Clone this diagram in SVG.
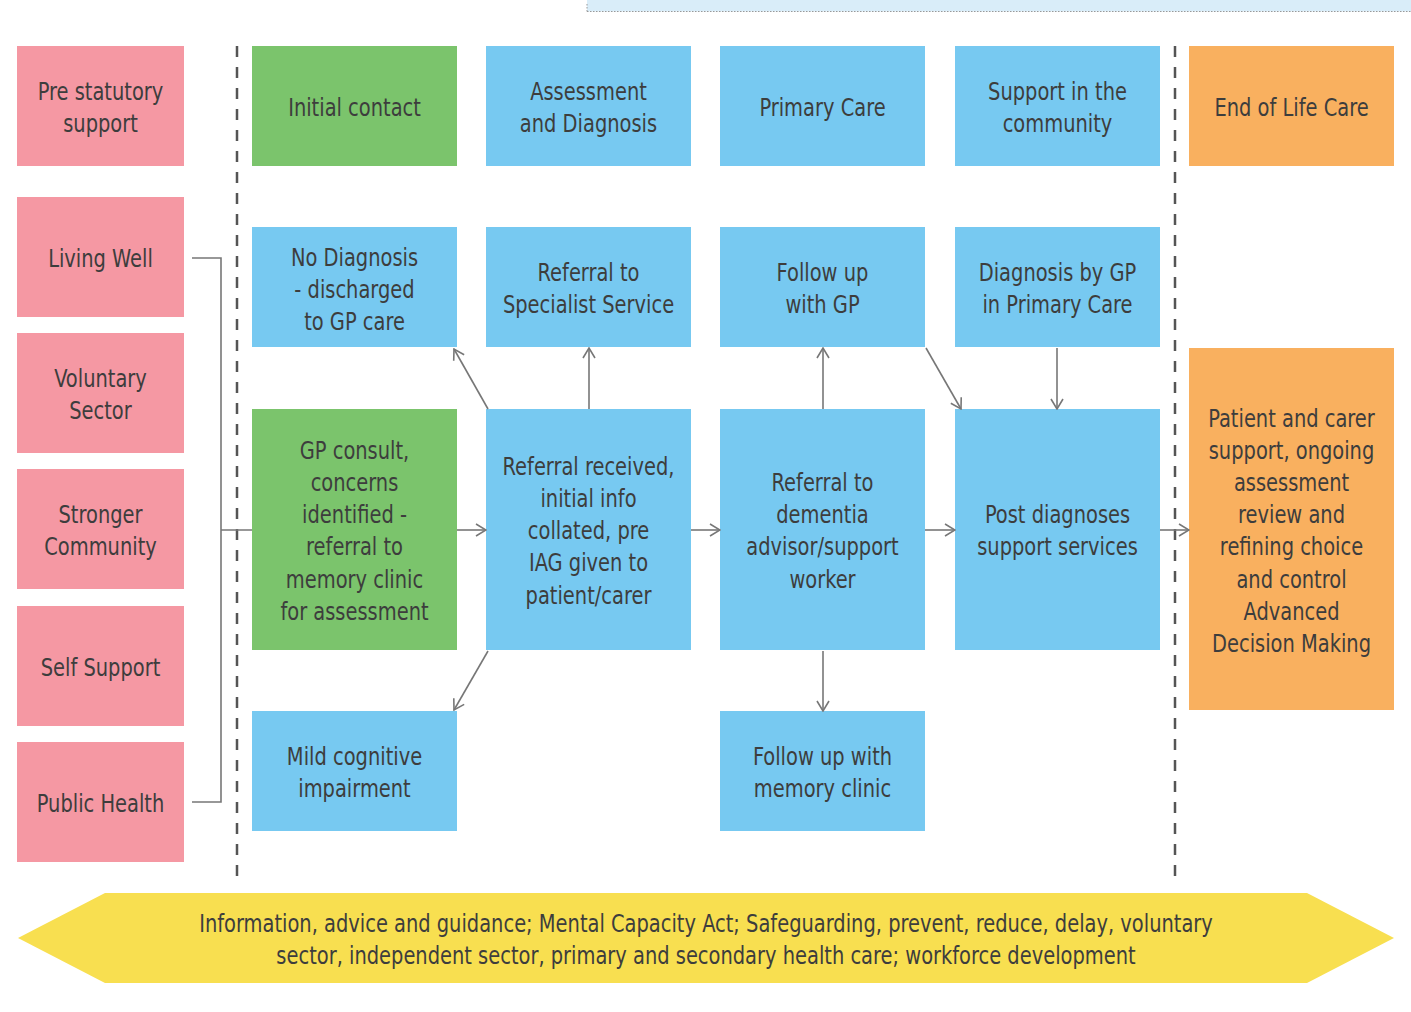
<svg xmlns="http://www.w3.org/2000/svg" width="1411" height="1012" viewBox="0 0 1411 1012">
<style>
.t{font-family:"DejaVu Sans Condensed","Liberation Sans Narrow",sans-serif;font-size:25px;fill:#3d3d3d;text-anchor:middle}
.pink{fill:#f598a3}
.green{fill:#7bc46c}
.blue{fill:#77c9f1}
.orange{fill:#f9b05f}
.c{stroke:#777;stroke-width:1.6;fill:none}
.dash{stroke:#555;stroke-width:2.5;stroke-dasharray:11 10;fill:none}
</style>
<defs>
<marker id="ah" viewBox="0 0 12 14" refX="11" refY="7" markerWidth="12" markerHeight="14" markerUnits="userSpaceOnUse" orient="auto">
<path d="M1,1 L11,7 L1,13" fill="none" stroke="#777" stroke-width="1.6"/>
</marker>
</defs>
<rect width="1411" height="1012" fill="#fff"/>
<g id="topstrip">
<rect x="587" y="-2" width="826" height="13.5" fill="#d9edf9"/>
<path d="M587,11.5 H1411 M587,4 V11.5" stroke="#999" stroke-width="1" stroke-dasharray="1.5 1.5" fill="none"/>
</g>
<g id="dividers">
<line class="dash" x1="237" y1="46" x2="237" y2="878"/>
<line class="dash" x1="1175" y1="46" x2="1175" y2="878"/>
</g>
<g id="n-pre"><rect class="pink" x="17" y="46" width="167" height="120"/><g transform="translate(100.5,0) scale(0.865,1)"><text class="t" x="0" y="100">Pre statutory</text><text class="t" x="0" y="132">support</text></g></g>
<g id="n-living"><rect class="pink" x="17" y="197" width="167" height="120"/><g transform="translate(100.5,0) scale(0.865,1)"><text class="t" x="0" y="267">Living Well</text></g></g>
<g id="n-voluntary"><rect class="pink" x="17" y="333" width="167" height="120"/><g transform="translate(100.5,0) scale(0.865,1)"><text class="t" x="0" y="387">Voluntary</text><text class="t" x="0" y="419">Sector</text></g></g>
<g id="n-stronger"><rect class="pink" x="17" y="469" width="167" height="120"/><g transform="translate(100.5,0) scale(0.865,1)"><text class="t" x="0" y="523">Stronger</text><text class="t" x="0" y="555">Community</text></g></g>
<g id="n-self"><rect class="pink" x="17" y="606" width="167" height="120"/><g transform="translate(100.5,0) scale(0.865,1)"><text class="t" x="0" y="676">Self Support</text></g></g>
<g id="n-public"><rect class="pink" x="17" y="742" width="167" height="120"/><g transform="translate(100.5,0) scale(0.865,1)"><text class="t" x="0" y="812">Public Health</text></g></g>

<g id="n-initial"><rect class="green" x="252" y="46" width="205" height="120"/><g transform="translate(354.5,0) scale(0.865,1)"><text class="t" x="0" y="116">Initial contact</text></g></g>
<g id="n-assess"><rect class="blue" x="486" y="46" width="205" height="120"/><g transform="translate(588.5,0) scale(0.865,1)"><text class="t" x="0" y="100">Assessment</text><text class="t" x="0" y="132">and Diagnosis</text></g></g>
<g id="n-primary"><rect class="blue" x="720" y="46" width="205" height="120"/><g transform="translate(822.5,0) scale(0.865,1)"><text class="t" x="0" y="116">Primary Care</text></g></g>
<g id="n-support"><rect class="blue" x="955" y="46" width="205" height="120"/><g transform="translate(1057.5,0) scale(0.865,1)"><text class="t" x="0" y="100">Support in the</text><text class="t" x="0" y="132">community</text></g></g>
<g id="n-eol"><rect class="orange" x="1189" y="46" width="205" height="120"/><g transform="translate(1291.5,0) scale(0.865,1)"><text class="t" x="0" y="116">End of Life Care</text></g></g>

<g id="n-nodiag"><rect class="blue" x="252" y="227" width="205" height="120"/><g transform="translate(354.5,0) scale(0.865,1)"><text class="t" x="0" y="266">No Diagnosis</text><text class="t" x="0" y="298">- discharged</text><text class="t" x="0" y="330">to GP care</text></g></g>
<g id="n-refspec"><rect class="blue" x="486" y="227" width="205" height="120"/><g transform="translate(588.5,0) scale(0.865,1)"><text class="t" x="0" y="281">Referral to</text><text class="t" x="0" y="313">Specialist Service</text></g></g>
<g id="n-followgp"><rect class="blue" x="720" y="227" width="205" height="120"/><g transform="translate(822.5,0) scale(0.865,1)"><text class="t" x="0" y="281">Follow up</text><text class="t" x="0" y="313">with GP</text></g></g>
<g id="n-diaggp"><rect class="blue" x="955" y="227" width="205" height="120"/><g transform="translate(1057.5,0) scale(0.865,1)"><text class="t" x="0" y="281">Diagnosis by GP</text><text class="t" x="0" y="313">in Primary Care</text></g></g>

<g id="n-gp"><rect class="green" x="252" y="409" width="205" height="241"/><g transform="translate(354.5,0) scale(0.865,1)">
<text class="t" x="0" y="459">GP consult,</text><text class="t" x="0" y="491">concerns</text><text class="t" x="0" y="523">identified -</text><text class="t" x="0" y="555">referral to</text><text class="t" x="0" y="588">memory clinic</text><text class="t" x="0" y="620">for assessment</text></g></g>
<g id="n-refrec"><rect class="blue" x="486" y="409" width="205" height="241"/><g transform="translate(588.5,0) scale(0.865,1)">
<text class="t" x="0" y="475">Referral received,</text><text class="t" x="0" y="507">initial info</text><text class="t" x="0" y="539">collated, pre</text><text class="t" x="0" y="571">IAG given to</text><text class="t" x="0" y="604">patient/carer</text></g></g>
<g id="n-dementia"><rect class="blue" x="720" y="409" width="205" height="241"/><g transform="translate(822.5,0) scale(0.865,1)">
<text class="t" x="0" y="491">Referral to</text><text class="t" x="0" y="523">dementia</text><text class="t" x="0" y="555">advisor/support</text><text class="t" x="0" y="588">worker</text></g></g>
<g id="n-post"><rect class="blue" x="955" y="409" width="205" height="241"/><g transform="translate(1057.5,0) scale(0.865,1)">
<text class="t" x="0" y="523">Post diagnoses</text><text class="t" x="0" y="555">support services</text></g></g>
<g id="n-patient"><rect class="orange" x="1189" y="348" width="205" height="362"/><g transform="translate(1291.5,0) scale(0.865,1)">
<text class="t" x="0" y="427">Patient and carer</text><text class="t" x="0" y="459">support, ongoing</text><text class="t" x="0" y="491">assessment</text><text class="t" x="0" y="523">review and</text><text class="t" x="0" y="555">refining choice</text><text class="t" x="0" y="588">and control</text><text class="t" x="0" y="620">Advanced</text><text class="t" x="0" y="652">Decision Making</text></g></g>

<g id="n-mild"><rect class="blue" x="252" y="711" width="205" height="120"/><g transform="translate(354.5,0) scale(0.865,1)"><text class="t" x="0" y="765">Mild cognitive</text><text class="t" x="0" y="797">impairment</text></g></g>
<g id="n-memory"><rect class="blue" x="720" y="711" width="205" height="120"/><g transform="translate(822.5,0) scale(0.865,1)"><text class="t" x="0" y="765">Follow up with</text><text class="t" x="0" y="797">memory clinic</text></g></g>

<g id="connectors">
<path class="c" d="M192,258 H221 V802 H192 M221,530 H252"/>
<line class="c" x1="457" y1="530" x2="486" y2="530" marker-end="url(#ah)"/>
<line class="c" x1="691" y1="530" x2="720" y2="530" marker-end="url(#ah)"/>
<line class="c" x1="925" y1="530" x2="955" y2="530" marker-end="url(#ah)"/>
<line class="c" x1="1160" y1="530" x2="1189" y2="530" marker-end="url(#ah)"/>
<line class="c" x1="589" y1="409" x2="589" y2="348" marker-end="url(#ah)"/>
<line class="c" x1="823" y1="409" x2="823" y2="348" marker-end="url(#ah)"/>
<line class="c" x1="488" y1="409" x2="454" y2="349" marker-end="url(#ah)"/>
<line class="c" x1="926" y1="348" x2="961" y2="409" marker-end="url(#ah)"/>
<line class="c" x1="1057" y1="348" x2="1057" y2="409" marker-end="url(#ah)"/>
<line class="c" x1="823" y1="651" x2="823" y2="711" marker-end="url(#ah)"/>
<line class="c" x1="488" y1="651" x2="454" y2="710" marker-end="url(#ah)"/>
</g>
<g id="banner">
<polygon points="18,938 105,893 1307,893 1394,938 1307,983 105,983" fill="#f8df50"/>
<g transform="translate(706,0) scale(0.865,1)">
<text class="t" x="0" y="932">Information, advice and guidance; Mental Capacity Act; Safeguarding, prevent, reduce, delay, voluntary</text>
<text class="t" x="0" y="964">sector, independent sector, primary and secondary health care; workforce development</text>
</g>
</g>
</svg>
